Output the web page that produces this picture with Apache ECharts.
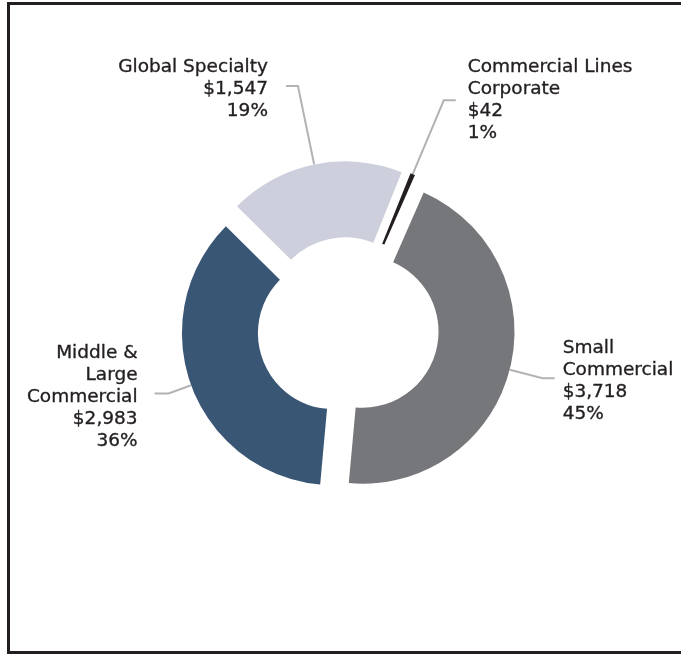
<!DOCTYPE html>
<html>
<head>
<meta charset="utf-8">
<script src="https://cdn.jsdelivr.net/npm/echarts@6/dist/echarts.min.js"></script>
<style>
  html, body { margin: 0; padding: 0; background: #ffffff; }
  #wrap { position: relative; width: 681px; height: 654px; overflow: hidden; }
  #frame { position: absolute; left: 7px; top: 2px; width: 700px; height: 646px; border: 3px solid #231f20; box-sizing: content-box; }
  #chart { position: absolute; left: 0; top: 0; width: 681px; height: 654px; }
</style>
</head>
<body>
<div id="wrap">
  <div id="frame"></div>
  <div id="chart"></div>
</div>
<script>
// Segment data (millions of dollars)
const categories = ['Commercial Lines\nCorporate', 'Small\nCommercial', 'Middle &\nLarge\nCommercial', 'Global Specialty'];
const values = [42, 3718, 2983, 1547];
const colors = ['#231f20', '#76777a', '#3a5675', '#cdd0dc'];
const lineLengths = [80, 34, 24, 80];
const lineLengths2 = [12, 12, 14, 12];
const labelGaps = [12, 8, 17, 18];
const labelDrop = [false, true, true, true];

const total = values.reduce((a, b) => a + b, 0);
function money(v) { return '$' + v.toLocaleString('en-US'); }

const data = categories.map((name, i) => ({
  name: name,
  value: values[i],
  selected: true,
  itemStyle: { color: colors[i] },
  select: { itemStyle: { color: colors[i], borderWidth: 0 } },
  label: { distanceToLabelLine: labelGaps[i] },
  labelLine: { length: lineLengths[i], length2: lineLengths2[i] }
}));

const chart = echarts.init(document.getElementById('chart'), null, { renderer: 'canvas' });
chart.setOption({
  animation: false,
  backgroundColor: 'transparent',
  series: [{
    type: 'pie',
    center: [348, 328],
    radius: [76, 152],
    startAngle: 68.1,
    clockwise: true,
    selectedMode: 'multiple',
    selectedOffset: 15,
    avoidLabelOverlap: false,
    emphasis: { disabled: true },
    itemStyle: { borderWidth: 0 },
    label: {
      show: true,
      position: 'outside',
      color: '#231f20',
      fontFamily: 'DejaVu Sans',
      fontSize: 18.5,
      lineHeight: 22,
      textBorderColor: '#231f20',
      textBorderWidth: 0.35,
      rich: {
        sp: { fontSize: 1, lineHeight: 7 },
        t: { fontFamily: 'DejaVu Sans', fontSize: 18.5, lineHeight: 22, color: '#231f20', textBorderColor: '#231f20', textBorderWidth: 0.35 }
      },
      formatter: function (p) {
        const lines = p.name.split('\n').concat([money(p.value), Math.round(p.value / total * 100) + '%']);
        return (labelDrop[p.dataIndex] ? '{sp| }\n' : '') + lines.map(l => '{t|' + l + '}').join('\n');
      }
    },
    labelLine: {
      show: true,
      smooth: false,
      lineStyle: { color: '#b3b3b5', width: 2 }
    },
    data: data
  }]
});
</script>
</body>
</html>
